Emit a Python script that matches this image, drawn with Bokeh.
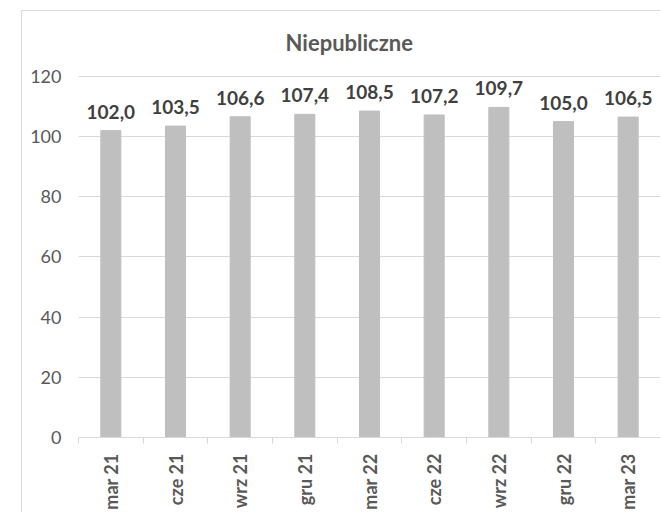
from math import pi
from bokeh.plotting import figure
from bokeh.models import Range1d, FixedTicker, ColumnDataSource
from bokeh.core.properties import value
from bokeh.embed import file_html
from bokeh.resources import INLINE

categories = ["mar 21", "cze 21", "wrz 21", "gru 21", "mar 22",
              "cze 22", "wrz 22", "gru 22", "mar 23"]
values = [102.0, 103.5, 106.6, 107.4, 108.5, 107.2, 109.7, 105.0, 106.5]
y_ticks = [0, 20, 40, 60, 80, 100, 120]
title_text = "Niepubliczne"

xs = [i + 0.5 for i in range(len(categories))]
labels = [f"{v:.1f}".replace(".", ",") for v in values]
src = ColumnDataSource(dict(x=xs, top=values, label=labels))

FONT = "Lato"

p = figure(frame_width=582, frame_height=377, output_backend="svg",
           toolbar_location=None,
           x_range=Range1d(0, len(categories)), y_range=Range1d(0, 125.3),
           min_border_left=56, min_border_right=0, min_border_top=49,
           min_border_bottom=70, title=title_text)
p.margin = (10, 0, 0, 21)
p.styles = {"border-left": "1px solid #D9D9D9", "border-top": "1px solid #D9D9D9"}
p.outline_line_color = None
p.background_fill_color = "white"
p.border_fill_color = "white"

p.title.align = "left"
p.title.offset = 207
p.title.text_font = FONT
p.title.text_font_style = "bold"
p.title.text_font_size = "22px"
p.title.text_color = "#595959"

p.vbar(x="x", top="top", width=0.31, source=src, color="#BFBFBF")
p.text(x="x", y="top", text="label", source=src, text_align="center",
       text_baseline="alphabetic", y_offset=-19, text_font=value(FONT),
       text_font_style="bold", text_font_size="19px", text_color="#404040")

xa = p.xaxis[0]
xa.ticker = FixedTicker(ticks=xs, minor_ticks=list(range(len(categories) + 1)))
xa.major_label_overrides = {x: c for x, c in zip(xs, categories)}
xa.major_label_orientation = pi / 2
xa.major_tick_line_color = None
xa.major_tick_out = 0
xa.major_tick_in = 0
xa.minor_tick_line_color = "#D9D9D9"
xa.minor_tick_out = 6
xa.minor_tick_in = 0
xa.axis_line_color = "#D9D9D9"
xa.major_label_standoff = 10
xa.major_label_text_font = FONT
xa.major_label_text_font_style = "bold"
xa.major_label_text_font_size = "18px"
xa.major_label_text_color = "#595959"

ya = p.yaxis[0]
ya.ticker = FixedTicker(ticks=y_ticks)
ya.axis_line_color = None
ya.major_tick_line_color = None
ya.minor_tick_line_color = None
ya.major_tick_out = 0
ya.major_tick_in = 0
ya.major_label_standoff = 17
ya.major_label_text_font = FONT
ya.major_label_text_font_size = "18px"
ya.major_label_text_color = "#595959"

p.xgrid.visible = False
p.ygrid.ticker = FixedTicker(ticks=y_ticks)
p.ygrid.grid_line_color = "#D9D9D9"

open("out.html", "w").write(file_html(p, INLINE))
